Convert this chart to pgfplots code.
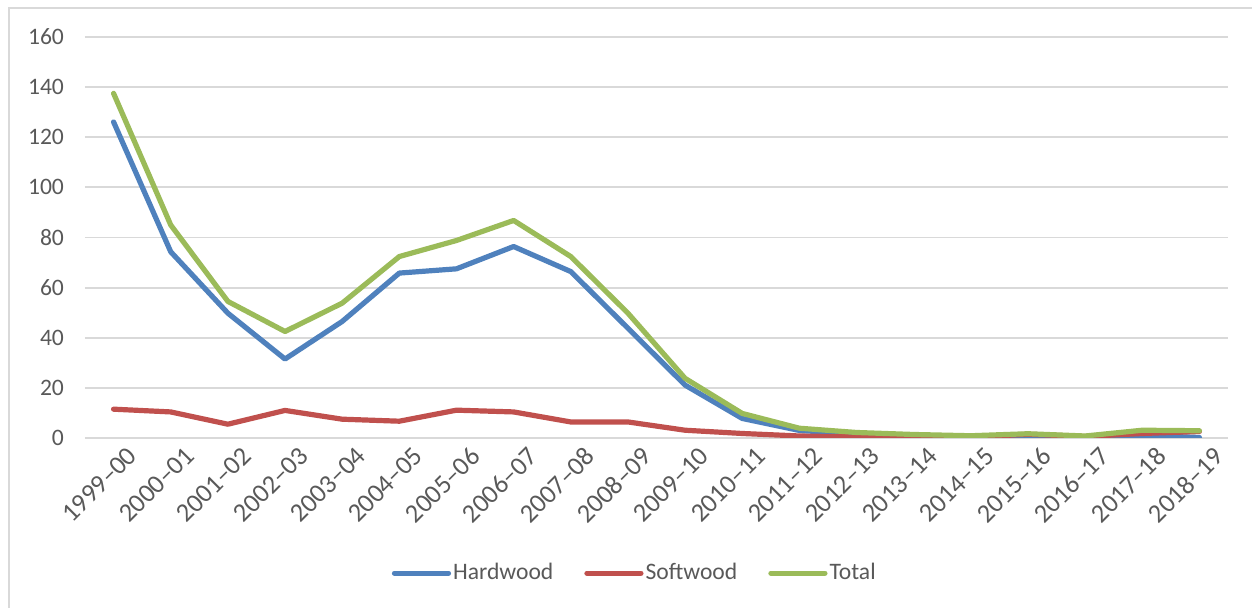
\documentclass[border=0pt]{standalone}
\usepackage{pgfplots}
\pgfplotsset{compat=1.18}
\usepackage{fontspec}
\setmainfont{Carlito}
\definecolor{hw}{HTML}{4F81BD}
\definecolor{sw}{HTML}{C0504D}
\definecolor{tot}{HTML}{9BBB59}
\definecolor{txt}{HTML}{595959}
\definecolor{grd}{HTML}{D9D9D9}
\begin{document}
\begin{tikzpicture}
\useasboundingbox (-42.5pt,-85pt) rectangle (583.5pt,219pt);
\draw[grd, line width=0.8pt] (-38pt,-85pt) -- (-38pt,215pt) -- (583.5pt,215pt);
\begin{axis}[
  at={(0pt,0pt)}, anchor=south west,
  scale only axis,
  width=571.5pt, height=200.5pt,
  xmin=-0.5, xmax=19.5,
  ymin=0, ymax=160,
  ytick={0,20,...,160},
  xtick={0,...,19},
  xticklabels={1999--00,2000--01,2001--02,2002--03,2003--04,2004--05,2005--06,2006--07,2007--08,2008--09,2009--10,2010--11,2011--12,2012--13,2013--14,2014--15,2015--16,2016--17,2017--18,2018--19},
  major tick length=0pt,
  axis line style={draw=none},
  ymajorgrids,
  grid style={grd, line width=0.9pt},
  font=\fontsize{11.8}{14}\selectfont,
  tick label style={txt},
  /pgf/number format/assume math mode=true,
  yticklabel style={anchor=east, xshift=-7pt},
  xticklabel style={rotate=45, anchor=north east, inner sep=1pt, xshift=3pt, yshift=-6pt, font=\fontsize{13.2}{15}\selectfont},
  legend columns=3,
  legend style={at={(0.481,-0.337)}, anchor=center, draw=none, font=\fontsize{11.8}{14}\selectfont\color{txt}, nodes={inner xsep=1pt}, /tikz/every even column/.append style={column sep=14.5pt}, /tikz/every odd column/.append style={column sep=0pt}},
  legend image code/.code={\draw[#1, line cap=round] (0pt,0pt) -- (27pt,0pt);},
  every axis plot/.append style={line width=2.6pt, line join=round, line cap=round},
]
\addplot[hw] coordinates {(0,126.1)(1,74.3)(2,49.8)(3,31.5)(4,46.5)(5,65.8)(6,67.5)(7,76.4)(8,66.4)(9,43.8)(10,21.1)(11,7.8)(12,3.0)(13,1.6)(14,1.0)(15,0.4)(16,0.2)(17,0.1)(18,1.1)(19,0.2)};
\addlegendentry{Hardwood}
\addplot[sw] coordinates {(0,11.5)(1,10.4)(2,5.5)(3,11.0)(4,7.5)(5,6.7)(6,11.1)(7,10.4)(8,6.4)(9,6.4)(10,3.1)(11,1.8)(12,0.8)(13,0.4)(14,0.3)(15,0.3)(16,1.5)(17,0.6)(18,1.8)(19,2.6)};
\addlegendentry{Softwood}
\addplot[tot] coordinates {(0,137.5)(1,85.0)(2,54.5)(3,42.5)(4,53.8)(5,72.4)(6,78.8)(7,86.8)(8,72.4)(9,49.8)(10,23.8)(11,9.8)(12,3.9)(13,2.2)(14,1.4)(15,0.9)(16,1.7)(17,0.8)(18,3.1)(19,2.9)};
\addlegendentry{Total}
\end{axis}
\end{tikzpicture}
\end{document}
